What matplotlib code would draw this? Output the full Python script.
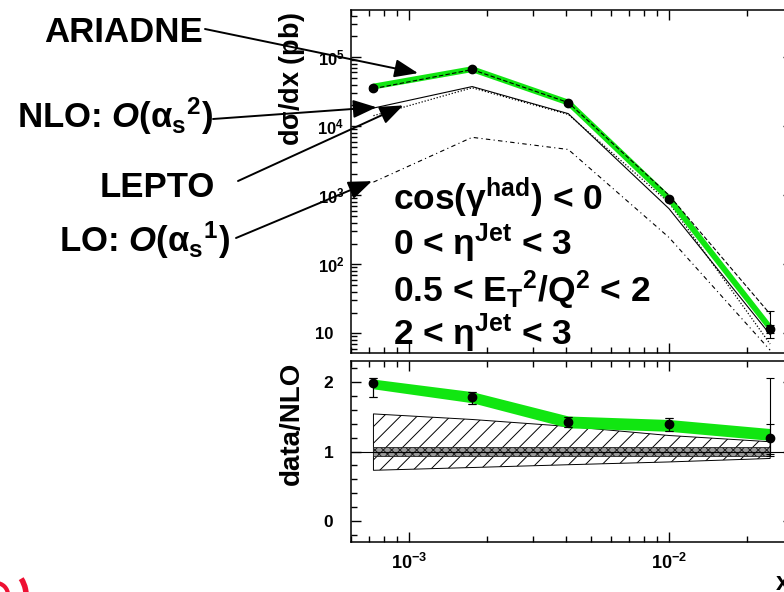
import numpy as np
import matplotlib.pyplot as plt
from matplotlib.ticker import LogLocator, NullFormatter, FixedLocator, MultipleLocator
from matplotlib.patches import Arc
from matplotlib.transforms import IdentityTransform

plt.rcParams['font.family'] = ['Liberation Sans', 'DejaVu Sans']
plt.rcParams['font.weight'] = 'bold'
plt.rcParams['mathtext.fontset'] = 'custom'
plt.rcParams['mathtext.rm'] = 'Liberation Sans:bold'
plt.rcParams['mathtext.it'] = 'Liberation Sans:italic:bold'
plt.rcParams['mathtext.bf'] = 'Liberation Sans:bold'
plt.rcParams['mathtext.default'] = 'rm'
plt.rcParams['hatch.linewidth'] = 0.7

W, H = 784, 592

# bin centres
x = [7.3e-4, 1.75e-3, 4.1e-3, 1.0e-2, 2.45e-2]

# measured cross section (pb), total and inner errors
data_xs = [3.6e4, 6.7e4, 2.15e4, 875, 11.4]
data_err_lo = [0.3e4, 0.25e4, 0.1e4, 40, 2.9]
data_err_hi = [0.25e4, 0.25e4, 0.1e4, 40, 9.6]
data_in_lo = [0.2e4, 0.2e4, 0.08e4, 30, 1.4]
data_in_hi = [0.2e4, 0.2e4, 0.08e4, 30, 1.6]

# predictions (pb)
ariadne = [3.75e4, 6.7e4, 2.2e4, 900, 12.0]
dashed_curve = [3.5e4, 6.6e4, 2.2e4, 1.0e3, 19.0]
nlo = [1.83e4, 3.75e4, 1.52e4, 640, 9.6]
lepto = [1.42e4, 3.6e4, 1.48e4, 780, 7.0]
lo = [1.55e3, 6.9e3, 4.6e3, 245, 5.7]

# ratio panel
ratio = [1.99, 1.78, 1.43, 1.39, 1.20]
ratio_err_lo = [0.20, 0.10, 0.08, 0.09, 0.27]
ratio_err_hi = [0.07, 0.07, 0.07, 0.09, 0.86]
ratio_in_lo = [0.20, 0.10, 0.08, 0.09, 0.24]
ratio_in_hi = [0.07, 0.07, 0.07, 0.09, 0.20]
ariadne_band_lo = [1.90, 1.70, 1.34, 1.29, 1.16]
ariadne_band_hi = [2.04, 1.86, 1.51, 1.46, 1.33]
scale_lo = [0.73, 0.77, 0.81, 0.85, 0.90]
scale_hi = [1.54, 1.46, 1.36, 1.23, 1.14]
had_lo = [0.94, 0.94, 0.94, 0.94, 0.94]
had_hi = [1.06, 1.06, 1.06, 1.06, 1.06]

ytick_vals = [10, 1e2, 1e3, 1e4, 1e5]
ytick_labels = ['10', r'$10^{2}$', r'$10^{3}$', r'$10^{4}$', r'$10^{5}$']

green = '#11e611'


def fx(px):
    return px / W


def fy(py):
    return 1 - py / H


fig = plt.figure(figsize=(W / 100, H / 100), dpi=100)
ax_top = fig.add_axes([fx(351.3), fy(353), 441.7 / W, (353 - 9.5) / H])
ax_bot = fig.add_axes([fx(351.3), fy(542), 441.7 / W, (542 - 361) / H])

for ax in (ax_top, ax_bot):
    ax.set_xscale('log')
    ax.set_xlim(6e-4, 0.03)
    ax.xaxis.set_major_locator(FixedLocator([1e-3, 1e-2]))
    ax.xaxis.set_minor_locator(LogLocator(base=10, subs=np.arange(2, 10)))
    ax.xaxis.set_minor_formatter(NullFormatter())
    ax.tick_params(which='both', direction='in', top=True, right=True, width=1.0)
    ax.tick_params(which='major', length=7)
    ax.tick_params(which='minor', length=4)
    for s in ax.spines.values():
        s.set_linewidth(1.1)

# upper panel
ax_top.set_yscale('log')
ax_top.set_ylim(5.19, 4.9e5)
ax_top.yaxis.set_major_locator(FixedLocator(ytick_vals))
ax_top.set_yticklabels(ytick_labels)
ax_top.yaxis.set_minor_locator(LogLocator(base=10, subs=np.arange(2, 10)))
ax_top.yaxis.set_minor_formatter(NullFormatter())
ax_top.tick_params(axis='y', labelsize=12, pad=5)
ax_top.yaxis.get_major_ticks()[0].set_pad(13)
ax_top.set_xticklabels([])

ax_top.plot(x, lo, color='black', lw=0.8, ls=(0, (4, 3, 1, 3)))
ax_top.plot(x, lepto, color='black', lw=0.9, ls=(0, (1, 1.5)))
ax_top.plot(x, nlo, color='black', lw=0.8, ls='-')
ax_top.plot(x, ariadne, color=green, lw=4.2, solid_capstyle='butt')
ax_top.plot(x, dashed_curve, color='black', lw=0.8, ls=(0, (4, 2)))
ax_top.errorbar(x, data_xs, yerr=[data_err_lo, data_err_hi], fmt='none',
                ecolor='black', elinewidth=0.8, capsize=3, capthick=0.8)
ax_top.errorbar(x, data_xs, yerr=[data_in_lo, data_in_hi], fmt='o', color='black',
                ms=6, elinewidth=0.8, capsize=3, capthick=0.8)

cuts = [r'cos($\mathrm{\gamma^{had}}$) < 0',
        r'0 < $\mathrm{\eta^{Jet}}$ < 3',
        r'0.5 < $\mathrm{E_{T}{}^{2}/Q^{2}}$ < 2',
        r'2 < $\mathrm{\eta^{Jet}}$ < 3']
cut_base = [210, 255, 302, 345]
for txt, yb in zip(cuts, cut_base):
    fig.text(fx(393), fy(yb), txt, fontsize=25.5, fontweight='bold',
             ha='left', va='baseline')

# lower panel
ax_bot.set_ylim(-0.3, 2.3)
ax_bot.yaxis.set_major_locator(FixedLocator([0, 1, 2]))
ax_bot.yaxis.set_minor_locator(MultipleLocator(0.2))
ax_bot.tick_params(axis='y', labelsize=12.5, pad=13)
ax_bot.tick_params(axis='x', labelsize=13, pad=8)
ax_bot.set_xticklabels([r'$10^{-3}$', r'$10^{-2}$'])

ax_bot.fill_between(x, scale_lo, scale_hi, facecolor='none', edgecolor='black',
                    hatch='//', lw=0.7)
ax_bot.fill_between(x, had_lo, had_hi, facecolor='#9a9a9a', edgecolor='#222222',
                    hatch='xxxx', lw=0.6)
ax_bot.axhline(1.0, color='black', lw=0.8)
ax_bot.fill_between(x, ariadne_band_lo, ariadne_band_hi, color=green, lw=0)
ax_bot.errorbar(x, ratio, yerr=[ratio_err_lo, ratio_err_hi], fmt='none',
                ecolor='black', elinewidth=0.8, capsize=3, capthick=0.8)
ax_bot.errorbar(x, ratio, yerr=[ratio_in_lo, ratio_in_hi], fmt='o', color='black',
                ms=6, elinewidth=0.8, capsize=3, capthick=0.8)

# axis titles
fig.text(fx(292), fy(12), r'd$\mathrm{\sigma}$/dx (pb)', rotation=90, fontsize=19.5,
         fontweight='bold', ha='center', va='top')
fig.text(fx(292), fy(362), 'data/NLO', rotation=90, fontsize=20,
         fontweight='bold', ha='center', va='top')
fig.text(fx(776), fy(590), 'x', fontsize=18, fontweight='bold', ha='left', va='baseline')

# labels with arrows
labels = [('ARIADNE', 203, 42, (205, 29), (1.083e-3, 5.87e4)),
          (r'NLO: $\mathit{O}(\mathrm{\alpha_{s}{}^{2}})$', 213, 128, (213, 119), (7.5e-4, 1.88e4)),
          ('LEPTO', 215, 197, (238, 181), (9.5e-4, 2.0e4)),
          (r'LO: $\mathit{O}(\mathrm{\alpha_{s}{}^{1}})$', 230, 252, (236, 238), (7.2e-4, 1.6e3))]
for txt, xr, yb, start, tip in labels:
    fig.text(fx(xr), fy(yb), txt, fontsize=25, fontweight='bold', ha='right', va='baseline')
    ax_top.annotate('', xy=tip, xycoords='data',
                    xytext=(start[0], H - start[1]), textcoords='figure pixels',
                    arrowprops=dict(arrowstyle='-|>,head_length=0.9,head_width=0.35',
                                    mutation_scale=16, lw=1.4, color='black',
                                    shrinkA=0, shrinkB=0),
                    annotation_clip=False)

# red logo fragment at the bottom left corner
for r, lw, t1, t2 in [(12, 3.0, 0, 90), (30, 4.0, -10, 33)]:
    fig.add_artist(Arc((-4, -3), 2 * r, 2 * r, theta1=t1, theta2=t2, color='#ee1133',
                       lw=lw, transform=IdentityTransform()))

fig.savefig('out.png', dpi=100)
